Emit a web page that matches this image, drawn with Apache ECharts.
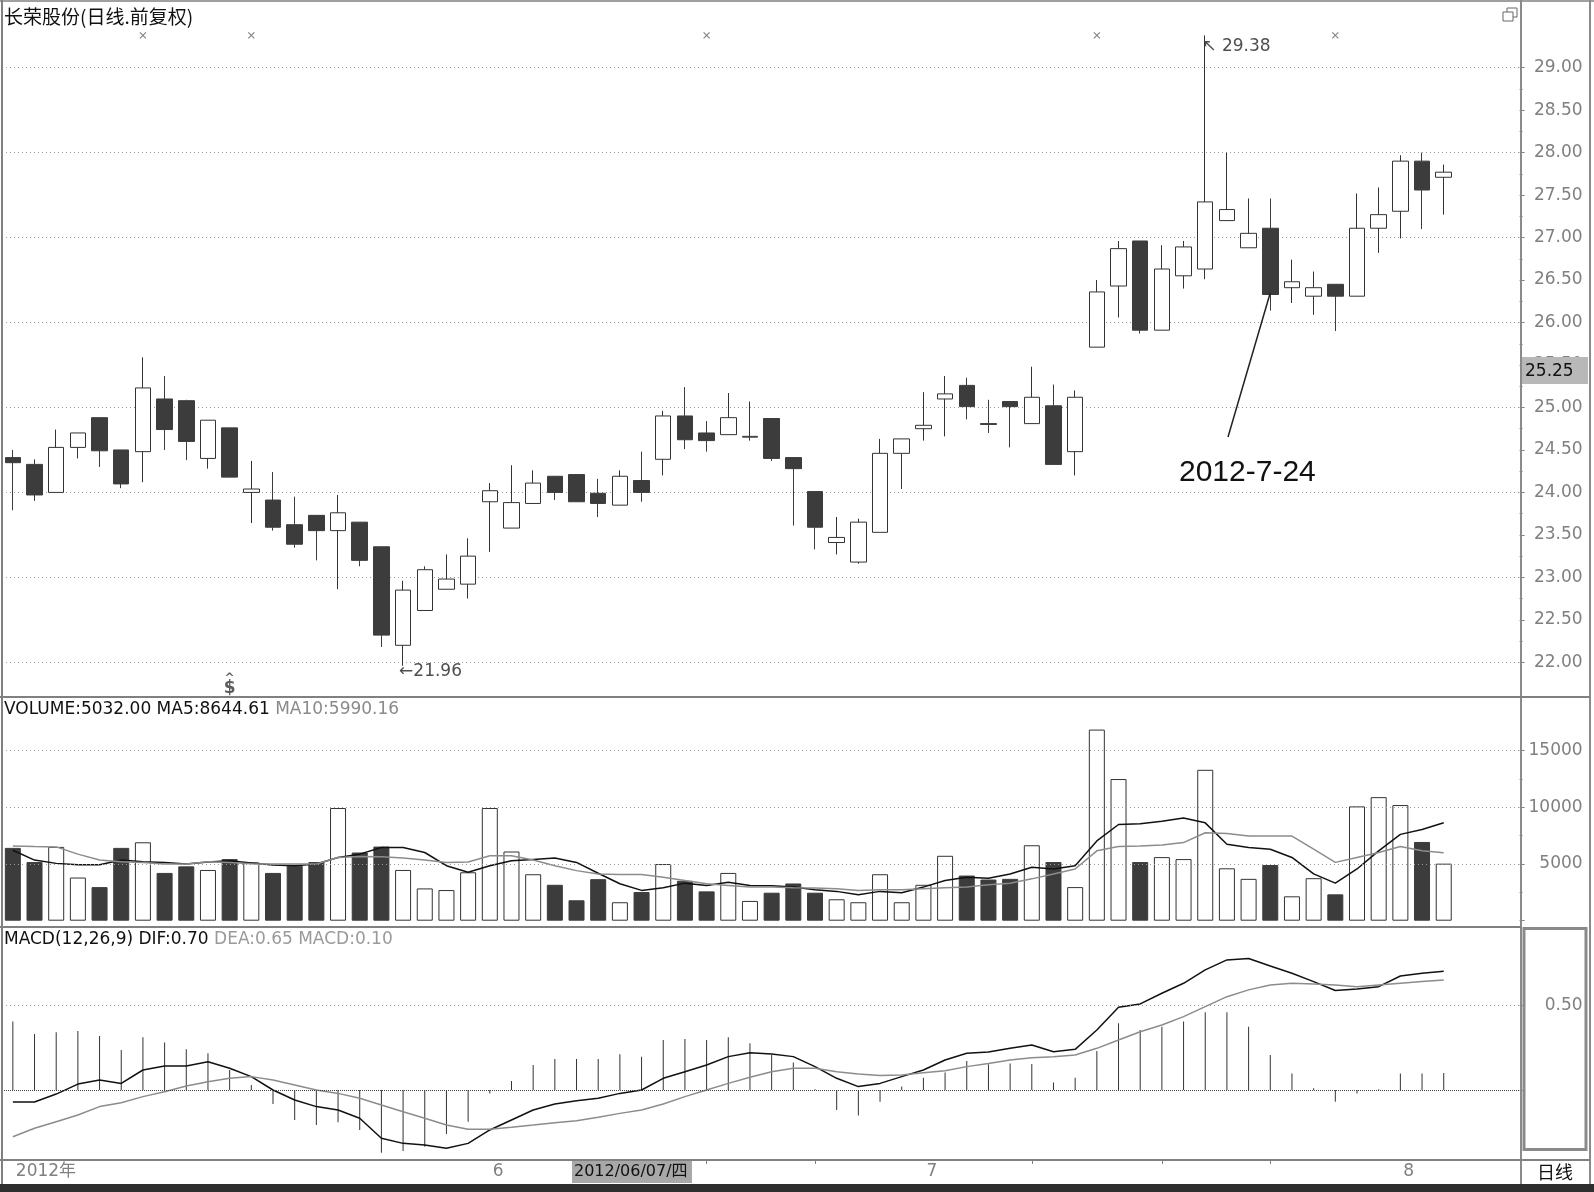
<!DOCTYPE html>
<html><head><meta charset="utf-8">
<script src="https://cdn.jsdelivr.net/npm/echarts@6/dist/echarts.min.js"></script>
<style>html,body{margin:0;padding:0;background:#fff;}#c{width:1594px;height:1192px;}</style>
</head><body><div id="c"></div>
<script>
// ---------- data ----------
const dates = [
'2012-05-02','2012-05-03','2012-05-04','2012-05-07','2012-05-08','2012-05-09','2012-05-10','2012-05-11','2012-05-14','2012-05-15',
'2012-05-16','2012-05-17','2012-05-18','2012-05-21','2012-05-22','2012-05-23','2012-05-24','2012-05-25','2012-05-28','2012-05-29',
'2012-05-30','2012-05-31',
'2012-06-01','2012-06-04','2012-06-05','2012-06-06','2012-06-07','2012-06-08','2012-06-11','2012-06-12','2012-06-13','2012-06-14',
'2012-06-15','2012-06-18','2012-06-19','2012-06-20','2012-06-21','2012-06-25','2012-06-26','2012-06-27','2012-06-28','2012-06-29',
'2012-07-02','2012-07-03','2012-07-04','2012-07-05','2012-07-06','2012-07-09','2012-07-10','2012-07-11','2012-07-12','2012-07-13',
'2012-07-16','2012-07-17','2012-07-18','2012-07-19','2012-07-20','2012-07-23','2012-07-24','2012-07-25','2012-07-26','2012-07-27',
'2012-07-30','2012-07-31',
'2012-08-01','2012-08-02','2012-08-03'];
const emptySlots = ['e1','e2','e3'];

const open = [24.41,24.33,24.00,24.53,24.88,24.50,24.48,25.10,25.08,24.40,
24.76,24.00,23.91,23.62,23.73,23.55,23.65,23.36,22.20,22.61,
22.86,22.92,23.89,23.58,23.87,24.19,24.21,23.99,23.85,24.14,
24.39,24.90,24.70,24.68,24.65,24.87,24.41,24.01,23.41,23.18,
23.53,24.46,24.75,25.10,25.26,24.81,25.07,24.81,25.02,24.48,
25.71,26.43,26.96,25.91,26.55,26.63,27.20,26.88,27.11,26.41,
26.31,26.45,26.31,27.11,27.31,27.90,27.71];
const close = [24.35,23.97,24.53,24.70,24.49,24.10,25.23,24.74,24.60,24.85,
24.18,24.04,23.59,23.39,23.55,23.76,23.20,22.32,22.85,23.09,
22.98,23.25,24.02,23.88,24.11,24.00,23.89,23.87,24.19,24.00,
24.90,24.62,24.61,24.88,24.66,24.40,24.28,23.59,23.47,23.65,
24.46,24.63,24.79,25.16,25.01,24.80,25.01,25.12,24.33,25.12,
26.36,26.87,25.91,26.63,26.89,27.42,27.33,27.05,26.33,26.48,
26.41,26.31,27.11,27.27,27.90,27.56,27.77];
const low = [23.79,23.90,24.00,24.40,24.30,24.05,24.12,24.50,24.38,24.28,
24.18,23.64,23.55,23.35,23.20,22.86,23.13,22.18,21.96,22.61,
22.86,22.75,23.30,23.58,23.87,23.91,23.89,23.71,23.85,23.89,
24.20,24.51,24.48,24.68,24.61,24.37,23.61,23.33,23.27,23.16,
23.53,24.04,24.61,24.66,24.86,24.70,24.53,24.81,24.33,24.20,
25.71,26.06,25.87,25.91,26.40,26.51,27.20,26.88,26.14,26.23,
26.09,25.90,26.31,26.82,26.99,27.10,27.27];
const high = [24.50,24.39,24.74,24.70,24.88,24.50,25.59,25.37,25.09,24.85,
24.76,24.37,24.24,23.95,23.73,23.97,23.65,23.36,22.96,23.13,
23.27,23.46,24.11,24.32,24.26,24.19,24.21,24.16,24.26,24.48,
24.96,25.24,24.84,25.17,25.07,24.87,24.41,24.01,23.71,23.69,
24.63,24.63,25.18,25.37,25.35,25.09,25.07,25.48,25.27,25.20,
26.50,26.96,26.96,26.91,26.96,29.38,28.00,27.46,27.46,26.74,
26.60,26.45,27.52,27.59,27.97,28.00,27.86];

const volume = [6425,5174,6512,3808,2965,6425,6919,4215,4797,4477,
5436,5145,4215,4855,5174,9942,6017,6541,4477,2849,
2704,4273,9942,6105,4099,3169,1802,3663,1628,2529,
5000,3517,2587,4215,1744,2471,3285,2471,1890,1628,
4099,1628,3169,5727,3983,3634,3692,6657,5174,2965,
16861,12500,5174,5610,5436,13314,4622,3692,4913,2151,
3750,2326,10087,10901,10204,6948,5032];
const volMA5 = [6221,5349,5058,4942,4942,5349,5203,5145,5000,5174,
5291,5087,4913,4855,5000,5581,5872,6453,6453,6017,
4855,4273,4855,5291,5407,5523,5145,4186,3256,2674,
2907,3314,3110,3401,3110,3081,2965,2733,2587,2297,
2587,2471,2965,3547,3837,3750,4128,4709,4564,4855,
7035,8488,8547,8779,9070,8634,6744,6453,6308,5581,
4128,3314,4564,6163,7616,8052,8645];
const volMA10 = [6599,6541,6512,5872,5349,5203,5145,5000,5000,5203,
5145,5029,5000,5000,5000,5581,5669,5640,5523,5349,
5145,5174,5727,5727,5349,4855,4418,4128,4070,4070,
3837,3547,3256,3110,2965,2965,2907,2878,2820,2674,
2733,2733,2820,2907,2965,3169,3314,3692,4128,4564,
6163,6541,6599,6686,6890,7762,7704,7471,7471,7471,
6308,5145,5581,6017,6541,6163,5990];

const dif = [-0.071,-0.071,-0.024,0.035,0.059,0.039,0.118,0.142,0.142,0.167,
0.128,0.079,0.000,-0.059,-0.098,-0.118,-0.167,-0.285,-0.315,-0.325,
-0.344,-0.315,-0.236,-0.177,-0.118,-0.083,-0.063,-0.049,-0.020,0.000,
0.069,0.108,0.148,0.197,0.220,0.213,0.197,0.138,0.069,0.020,
0.039,0.079,0.118,0.177,0.217,0.224,0.246,0.266,0.226,0.240,
0.354,0.488,0.508,0.571,0.630,0.709,0.768,0.776,0.732,0.689,
0.640,0.587,0.596,0.610,0.673,0.689,0.701];
const dea = [-0.276,-0.226,-0.187,-0.148,-0.098,-0.075,-0.039,-0.010,0.024,0.049,
0.069,0.079,0.059,0.030,0.000,-0.020,-0.049,-0.089,-0.128,-0.167,
-0.207,-0.232,-0.232,-0.220,-0.207,-0.193,-0.181,-0.161,-0.138,-0.118,
-0.083,-0.039,0.000,0.039,0.075,0.108,0.128,0.128,0.108,0.094,
0.085,0.089,0.102,0.114,0.138,0.157,0.177,0.191,0.197,0.207,
0.246,0.295,0.344,0.384,0.433,0.492,0.551,0.591,0.620,0.630,
0.626,0.620,0.610,0.620,0.630,0.640,0.650];
const macd = [0.404,0.331,0.341,0.348,0.319,0.236,0.311,0.281,0.240,0.217,
0.118,0.030,-0.083,-0.177,-0.207,-0.191,-0.236,-0.370,-0.360,-0.335,
-0.260,-0.187,-0.020,0.053,0.148,0.183,0.183,0.183,0.211,0.197,
0.295,0.301,0.295,0.311,0.276,0.207,0.163,0.005,-0.118,-0.150,
-0.069,0.020,0.073,0.104,0.171,0.152,0.157,0.154,0.045,0.073,
0.230,0.394,0.354,0.374,0.404,0.459,0.459,0.374,0.207,0.098,
0.010,-0.069,-0.020,0.005,0.098,0.098,0.100];

const eventIdx = [6, 11, 32, 50, 61];      // "×" info markers
const eventLevel = 29.38;
const dollarIdx = 10, dollarLevel = 21.72;
const volGridLines = [5000,10000,15000];
const weekTickIdx = [32, 37, 47, 53, 58];
const lowMarkIdx = 18, highMarkIdx = 55;
const noteIdx = 58, notePrice = 26.35, noteText = '2012-7-24';

// ---------- build ----------
const categories = dates.concat(emptySlots);
const candle = dates.map((d,i)=>[open[i], close[i], low[i], high[i]]);
const isUp = i => close[i] >= open[i];
const volData = volume.map((v,i)=>({value:v, itemStyle: isUp(i)
  ? {color:'#ffffff', borderColor:'#333', borderWidth:1}
  : {color:'#3c3c3c', borderColor:'#3c3c3c', borderWidth:1}}));

const monthStart = i => i>0 && i<dates.length && dates[i].slice(5,7) !== dates[i-1].slice(5,7);
const labelShown = i => i===0 || monthStart(i);
const labelText = i => i===0 ? dates[0].slice(0,4)+'年' : (monthStart(i) ? String(Number(dates[i].slice(5,7))) : '');

const GL = 2, GW = 70*21.68;
const NUMF = 'DejaVu Sans';
const dotted = {color:'#9a9a9a', type:[1,3], width:1};

const chart = echarts.init(document.getElementById('c'), null, {renderer:'canvas'});
const hiddenX = gi => ({type:'category', gridIndex:gi, data:categories, boundaryGap:true, show:false});

const option = {
  animation:false,
  backgroundColor:'#ffffff',
  grid:[
    {left:GL, width:GW, top:67.7, height:594.6},
    {left:GL, width:GW, top:750.7, height:170},
    {left:GL, width:GW, top:1005.3, height:84.7},
    {left:GL, width:GW, top:1160, height:24}
  ],
  xAxis:[
    hiddenX(0), hiddenX(1), hiddenX(2),
    {type:'category', gridIndex:3, data:categories, boundaryGap:true, position:'top',
     axisLine:{show:false},
     axisTick:{show:true, inside:true, length:24, alignWithLabel:true, interval:(i)=>monthStart(i), lineStyle:{color:'#808080', width:1}},
     axisLabel:{show:true, inside:true, interval:(i)=>labelShown(i), formatter:(v,i)=>labelText(i),
       align:'left', margin:3, padding:[0,0,0,3], color:'#808080', fontSize:17, fontFamily:'DejaVu Sans, Noto Sans CJK SC'}},
    {type:'category', gridIndex:3, data:categories, boundaryGap:true, position:'top',
     axisLine:{show:false}, axisLabel:{show:false},
     axisTick:{show:true, inside:true, length:4, alignWithLabel:true, interval:(i)=>weekTickIdx.includes(i), lineStyle:{color:'#808080'}}}
  ],
  yAxis:[
    {type:'value', gridIndex:0, min:22, max:29, interval:1, position:'left',
     axisLine:{show:false}, axisTick:{show:false}, axisLabel:{show:false},
     splitLine:{show:true, lineStyle:dotted}},
    {type:'value', gridIndex:0, min:22, max:29, interval:0.5, position:'right',
     axisLine:{show:false}, splitLine:{show:false},
     axisTick:{show:true, length:5, lineStyle:{color:'#808080'}},
     minorTick:{show:true, splitNumber:2, length:3, lineStyle:{color:'#808080'}},
     axisLabel:{show:true, align:'right', margin:63, color:'#808080', fontSize:17, fontFamily:NUMF,
       formatter:v=>v.toFixed(2)}},
    {type:'value', gridIndex:1, min:0, max:15000, interval:5000, position:'right',
     axisLine:{show:false}, splitLine:{show:false},
     axisTick:{show:true, length:5, lineStyle:{color:'#808080'}},
     minorTick:{show:true, splitNumber:2, length:3, lineStyle:{color:'#808080'}},
     axisLabel:{show:true, align:'right', margin:63, color:'#808080', fontSize:17, fontFamily:NUMF,
       formatter:v=> v>0 ? String(v) : ''}},
    {type:'value', gridIndex:2, min:0, max:0.5, interval:0.5, position:'right',
     axisLine:{show:false}, splitLine:{show:false},
     axisTick:{show:true, length:5, lineStyle:{color:'#808080'}},
     axisLabel:{show:true, align:'right', margin:63, color:'#808080', fontSize:17, fontFamily:NUMF,
       formatter:v=> v>0 ? v.toFixed(2) : ''}},
    {type:'value', gridIndex:3, show:false}
  ],
  series:[
    {type:'candlestick', name:'K', xAxisIndex:0, yAxisIndex:0, data:candle, barWidth:16, clip:false,
     itemStyle:{color:'#ffffff', color0:'#3c3c3c', borderColor:'#333333', borderColor0:'#3c3c3c', borderWidth:1}},
    // low / high annotations
    {type:'scatter', xAxisIndex:0, yAxisIndex:0, clip:false, silent:true, symbolSize:0, z:5,
     label:{show:true, position:'right', distance:0, color:'#222', fontSize:17, fontFamily:NUMF,
       formatter:p=>'←'+p.value[1].toFixed(2)},
     labelLayout:{dx:-4, dy:6},
     data:[[dates[lowMarkIdx], low[lowMarkIdx]]]},
    {type:'scatter', xAxisIndex:0, yAxisIndex:0, clip:false, silent:true, symbolSize:0, z:5,
     label:{show:true, position:'right', distance:0, color:'#222', fontSize:17, fontFamily:NUMF,
       formatter:p=>'↖ '+p.value[1].toFixed(2)},
     labelLayout:{dx:-3, dy:11},
     data:[[dates[highMarkIdx], high[highMarkIdx]]]},
    {type:'scatter', xAxisIndex:0, yAxisIndex:0, clip:false, silent:true,
     symbol:'path://M0,0 L10,10 M10,0 L0,10', symbolSize:6,
     itemStyle:{color:'none', borderColor:'#666', borderWidth:1.2},
     data:eventIdx.map(i=>[dates[i], eventLevel])},
    {type:'scatter', xAxisIndex:0, yAxisIndex:0, clip:false, silent:true, symbolSize:0,
     label:{show:true, position:'inside', formatter:'{c|^}\n{d|$}',
       rich:{c:{fontSize:12, fontWeight:'bold', color:'#333', lineHeight:5, fontFamily:NUMF},
             d:{fontSize:17, fontWeight:'bold', color:'#333', lineHeight:15, fontFamily:NUMF}}},
     data:[[dates[dollarIdx], dollarLevel]]},
    {type:'bar', xAxisIndex:1, yAxisIndex:2, data:volData, barWidth:16, clip:false,
     markLine:{silent:true, symbol:['none','none'], label:{show:false}, lineStyle:dotted,
       data:volGridLines.map(v=>({yAxis:v}))}},
    {type:'line', xAxisIndex:1, yAxisIndex:2, data:volMA5, showSymbol:false, clip:false,
     lineStyle:{color:'#111', width:1.5}, silent:true},
    {type:'line', xAxisIndex:1, yAxisIndex:2, data:volMA10, showSymbol:false, clip:false,
     lineStyle:{color:'#8c8c8c', width:1.5}, silent:true},
    {type:'bar', xAxisIndex:2, yAxisIndex:3, data:macd, barWidth:1, clip:false,
     itemStyle:{color:'#333'},
     markLine:{silent:true, symbol:['none','none'], label:{show:false},
       data:[{yAxis:0.5, lineStyle:dotted}, {yAxis:0, lineStyle:{color:'#444', type:[1,1], width:1}}]}},
    {type:'line', xAxisIndex:2, yAxisIndex:3, data:dif, showSymbol:false, clip:false,
     lineStyle:{color:'#111', width:1.5}, silent:true},
    {type:'line', xAxisIndex:2, yAxisIndex:3, data:dea, showSymbol:false, clip:false,
     lineStyle:{color:'#8c8c8c', width:1.5}, silent:true}
  ]
};
chart.setOption(option);

// ---------- frame, headers, annotations ----------
const L = (x1,y1,x2,y2,c,w)=>({type:'line', silent:true, z:100, shape:{x1,y1,x2,y2}, style:{stroke:c, lineWidth:w}});
const T = (x,y,text,font,fill,extra)=>Object.assign({type:'text', silent:true, z:101,
  style:Object.assign({x,y,text,font,fill,align:'left',verticalAlign:'middle',textAlign:'left',textVerticalAlign:'middle'}, extra||{})});
const target = chart.convertToPixel({xAxisIndex:0, yAxisIndex:0}, [dates[noteIdx], notePrice]);

chart.setOption({graphic:[
  L(0,1,1594,1,'#a0a0a0',2),
  L(2,0,2,1184,'#808080',2),
  L(1521,0,1521,1184,'#8a8a8a',2),
  L(1590,0,1590,1184,'#8a8a8a',2),
  L(0,697,1590,697,'#808080',2),
  L(0,927,1521,927,'#808080',2),
  L(0,1160,1590,1160,'#808080',2),
  {type:'rect', silent:true, z:100, shape:{x:1524,y:928.5,width:62,height:221}, style:{fill:'none', stroke:'#8a8a8a', lineWidth:3}},
  {type:'rect', silent:true, z:100, shape:{x:0,y:1184,width:1594,height:8}, style:{fill:'#2e2e2e'}},
  // restore icon
  {type:'rect', silent:true, z:100, shape:{x:1507,y:8,width:10,height:9}, style:{fill:'#fff', stroke:'#666', lineWidth:1}},
  {type:'rect', silent:true, z:101, shape:{x:1503,y:12,width:10,height:9}, style:{fill:'#fff', stroke:'#666', lineWidth:1}},
  // headers
  T(4,17,'长荣股份(日线.前复权)','19px "Noto Sans CJK SC"','#111'),
  T(4,710,'{a|VOLUME:5032.00} {a|MA5:8644.61} {b|MA10:5990.16}','17px "DejaVu Sans"','#111',
    {rich:{a:{fill:'#111', font:'17px "DejaVu Sans"'}, b:{fill:'#8a8a8a', font:'17px "DejaVu Sans"'}}}),
  T(4,940,'{a|MACD(12,26,9)} {a|DIF:0.70} {b|DEA:0.65} {b|MACD:0.10}','17px "DejaVu Sans"','#111',
    {rich:{a:{fill:'#111', font:'17px "DejaVu Sans"'}, b:{fill:'#9a9a9a', font:'17px "DejaVu Sans"'}}}),
  // current price box
  {type:'rect', silent:true, z:100, shape:{x:1522,y:357,width:66,height:27}, style:{fill:'#b8b8b8'}},
  T(1525,372,'25.25','17px "DejaVu Sans"','#111'),
  // cursor date box
  {type:'rect', silent:true, z:100, shape:{x:572,y:1161,width:120,height:22}, style:{fill:'#a8a8a8'}},
  T(574,1172,'2012/06/07/四','16px "DejaVu Sans", "Noto Sans CJK SC"','#111'),
  T(1537,1172,'日线','18px "Noto Sans CJK SC"','#111'),
  // date annotation
  T(1179,473,noteText,'30px "Liberation Sans"','#111'),
  L(1228,437,target[0],target[1],'#222',1.5)
]});
</script>
</body></html>
